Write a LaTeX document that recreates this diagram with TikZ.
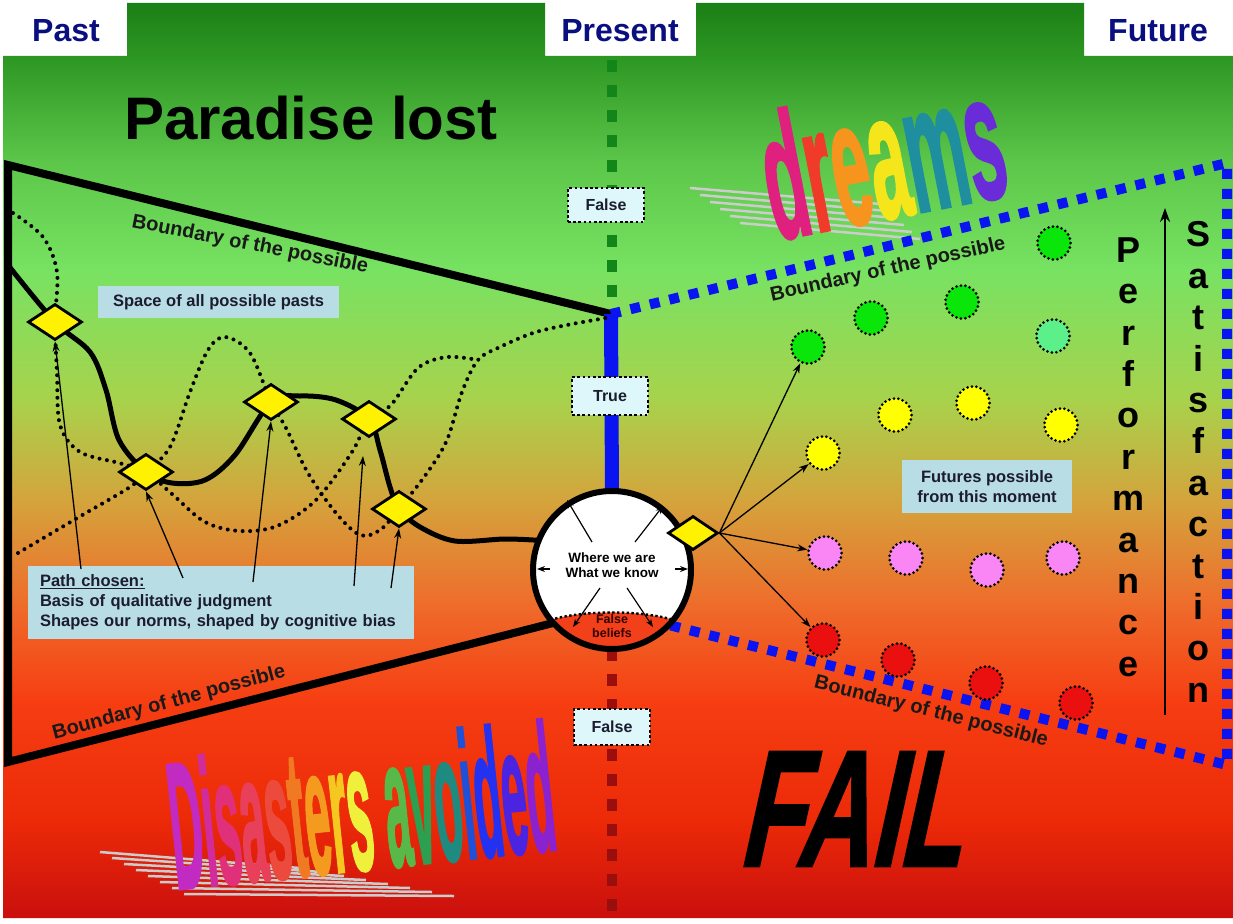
\documentclass[tikz,border=0pt]{standalone}
\usepackage{fontspec}
\setmainfont{Liberation Sans}
\newfontfamily\heavyfont{Liberation Sans}[FakeBold=2]
\usepackage{graphicx}
\usetikzlibrary{shapes.geometric,arrows.meta}
\definecolor{navy}{HTML}{0A0F80}
\definecolor{bgA}{HTML}{1A7E14}
\definecolor{bgB}{HTML}{2E9824}
\definecolor{bgC}{HTML}{5CC64A}
\definecolor{bgD}{HTML}{78E262}
\definecolor{bgE}{HTML}{A8D24C}
\definecolor{bgF}{HTML}{D4A43C}
\definecolor{bgG}{HTML}{EE6E2C}
\definecolor{bgH}{HTML}{F63E12}
\definecolor{bgI}{HTML}{EC2A08}
\definecolor{bgJ}{HTML}{C80E0E}
\definecolor{dgreen}{HTML}{13861A}
\definecolor{dred}{HTML}{9A0E0E}
\definecolor{bblue}{HTML}{0A14F0}
\definecolor{infob}{HTML}{B9DDE5}
\definecolor{tfcyan}{HTML}{DDF7FA}
\definecolor{txtd}{HTML}{1C1C30}
\definecolor{fgreen}{HTML}{0AE60A}
\definecolor{fmint}{HTML}{5CF08A}
\definecolor{fyellow}{HTML}{FFFF00}
\definecolor{fpink}{HTML}{FA86F6}
\definecolor{fred}{HTML}{EA1010}
\definecolor{fbred}{HTML}{F2401A}
\definecolor{waA}{HTML}{E0207F}
\definecolor{waB}{HTML}{F03A2A}
\definecolor{waC}{HTML}{F7941D}
\definecolor{waD}{HTML}{F5E51B}
\definecolor{waE}{HTML}{1F8FA0}
\definecolor{waF}{HTML}{6A2BD8}
\definecolor{dsA}{HTML}{C22BC2}
\definecolor{dsB}{HTML}{D12C9E}
\definecolor{dsC}{HTML}{E0307A}
\definecolor{dsD}{HTML}{E8405A}
\definecolor{dsE}{HTML}{EC4A3C}
\definecolor{dsF}{HTML}{F07A22}
\definecolor{dsG}{HTML}{F49A1E}
\definecolor{dsH}{HTML}{F4C81E}
\definecolor{dsI}{HTML}{EEF03C}
\definecolor{dsJ}{HTML}{58B848}
\definecolor{dsK}{HTML}{2AA050}
\definecolor{dsL}{HTML}{1F8A80}
\definecolor{dsM}{HTML}{1E50D8}
\definecolor{dsN}{HTML}{2232F0}
\definecolor{dsO}{HTML}{4A24E0}
\definecolor{dsP}{HTML}{8A22D0}
\begin{document}
\begin{tikzpicture}[x=1pt,y=-1pt,
  tabtxt/.style={font=\fontsize{32}{32}\selectfont\bfseries, text=navy, inner sep=0pt},
  bndtxt/.style={font=\fontsize{20}{20}\selectfont\bfseries, text=black!90, inner sep=0pt},
  infobox/.style={fill=infob, inner sep=0pt, font=\fontsize{16.5}{20}\selectfont\bfseries, text=txtd},
  tfbox/.style={draw=black, line width=2.6pt, dash pattern=on 2.6pt off 2.6pt, fill=tfcyan, minimum width=76pt, minimum height=34pt, inner sep=0pt, font=\fontsize{16}{16}\selectfont\bfseries, text=txtd},
  pdiam/.style={diamond, draw=black, line width=2.8pt, fill=yellow, minimum width=54pt, minimum height=36pt, inner sep=0pt},
  fut/.style={circle, draw=black, line width=3pt, dash pattern=on 0pt off 4.5pt, line cap=round, minimum size=33pt, inner sep=0pt},
  dotcurve/.style={line width=4pt, dash pattern=on 0pt off 7.5pt, line cap=round},
  thinarr/.style={line width=1.3pt, -{Stealth[length=10pt,width=7pt]}},
  smallarr/.style={line width=1.2pt, -{Stealth[length=8pt,width=6pt]}},
  bluedash/.style={draw=bblue, line width=10pt, dash pattern=on 10pt off 10pt},
  shadowline/.style={draw=gray!40, line width=2.5pt},
  vert/.style={font=\fontsize{36}{41.4}\selectfont\bfseries, align=center, inner sep=0pt},
]
\useasboundingbox (0,0) rectangle (1233,923);
\fill[white] (0,0) rectangle (1233,923);
% background gradient
\begin{scope}
\clip (3,56) -- (127,56) -- (127,3) -- (545,3) -- (545,56) -- (696,56) -- (696,3) -- (1084,3) -- (1084,56) -- (1233,56) -- (1233,918) -- (3,918) -- cycle;
\shade[top color=bgA, bottom color=bgB] (0,0) rectangle (1233,61);
\shade[top color=bgB, bottom color=bgC] (0,60) rectangle (1233,161);
\shade[top color=bgC, bottom color=bgD] (0,160) rectangle (1233,271);
\shade[top color=bgD, bottom color=bgE] (0,270) rectangle (1233,401);
\shade[top color=bgE, bottom color=bgF] (0,400) rectangle (1233,501);
\shade[top color=bgF, bottom color=bgG] (0,500) rectangle (1233,601);
\shade[top color=bgG, bottom color=bgH] (0,600) rectangle (1233,701);
\shade[top color=bgH, bottom color=bgI] (0,700) rectangle (1233,821);
\shade[top color=bgI, bottom color=bgJ] (0,820) rectangle (1233,923);
\end{scope}
% tabs
\node[tabtxt] (past) at (66,31) {Past};
\node[tabtxt] (present) at (620,31) {Present};
\node[tabtxt] (future) at (1158,31) {Future};
% word art shadows
\foreach \i in {0,...,5} \draw[shadowline] (690+10*\i,188+7*\i) -- (880+8*\i,204+7*\i);
\foreach \i in {0,...,7} \draw[shadowline] (100+12*\i,852+6*\i) -- (300+22*\i,868+4*\i);
% word art
\node[rotate=11, inner sep=0pt] (drm) at (882,155) {\scalebox{0.68}[1.77]{\fontsize{100}{100}\selectfont\heavyfont\bfseries\textcolor{waA}{d}\textcolor{waB}{r}\textcolor{waC}{e}\textcolor{waD}{a}\textcolor{waE}{m}\textcolor{waF}{s}}};
\node[rotate=6, inner sep=0pt] (dis) at (361,805) {\scalebox{0.45}[1.8]{\fontsize{100}{100}\selectfont\heavyfont\bfseries\textcolor{dsA}{D}\textcolor{dsB}{i}\textcolor{dsC}{s}\textcolor{dsD}{a}\textcolor{dsE}{s}\textcolor{dsF}{t}\textcolor{dsG}{e}\textcolor{dsH}{r}\textcolor{dsI}{s} \textcolor{dsJ}{a}\textcolor{dsK}{v}\textcolor{dsL}{o}\textcolor{dsM}{i}\textcolor{dsN}{d}\textcolor{dsO}{e}\textcolor{dsP}{d}}};
\node[xslant=0.22, inner sep=0pt] (fail) at (861,809) {\scalebox{0.62}[1]{\fontsize{165}{165}\selectfont\heavyfont\bfseries FAIL}};
\node[inner sep=0pt, font=\fontsize{60}{60}\selectfont\bfseries] (pl) at (311,118) {Paradise lost};
% present line
\coordinate (gtop) at (612,60);
\coordinate (gbot) at (612,306);
\coordinate (apex) at (611,314);
\coordinate (rbot) at (612,918);
\draw[dgreen, line width=10pt, dash pattern=on 12pt off 13pt] (gtop) -- (gbot);
\node[circle, minimum size=158pt, fill=white, inner sep=0pt] (c) at (612,570) {};
\draw[dred, line width=10pt, dash pattern=on 12pt off 13pt] (c.south) -- (rbot);
% past boundaries
\coordinate (tl) at (8,165);
\coordinate (bl) at (8,762);
\draw[line width=8pt, line join=miter] (apex) -- (tl) -- (bl) -- (c.222);
% present / future boundaries
\draw[bblue, line width=14pt] (apex) -- (c.north);
\coordinate (tr) at (1227,163);
\coordinate (br) at (1227,765);
\draw[bluedash] (apex) -- (tr) -- (br) -- (c.-44);
% boundary labels
\node[bndtxt, rotate=-11] (b1) at (250,245) {Boundary of the possible};
\node[bndtxt, rotate=15] (b2) at (169,703) {Boundary of the possible};
\node[bndtxt, rotate=12.5] (b3) at (888,270) {Boundary of the possible};
\node[bndtxt, rotate=-14] (b4) at (931,712) {Boundary of the possible};
% info boxes
\node[infobox, minimum width=241pt, minimum height=32pt] (spc) at (218.5,302) {Space of all possible pasts};
\node[infobox, minimum width=386pt, minimum height=73pt, text width=362pt, align=left] (pc) at (221,602) {\underline{Path chosen:}\\Basis of qualitative judgment\\Shapes our norms, shaped by cognitive bias};
\node[infobox, minimum width=170pt, minimum height=53pt, align=center] (fb) at (987,486.5) {Futures possible\\from this moment};
% path points
\coordinate (D1) at (55,322);
\coordinate (D2) at (146,472);
\coordinate (D3) at (271,402);
\coordinate (D4) at (369,419);
\coordinate (D5) at (399,509);
% dotted alternative pasts
\draw[dotcurve] plot[smooth, tension=0.55] coordinates {(13,213) (43,237) (57,272) (D1) (57,373) (60,425) (80,452) (119,463) (D2) (172,494) (205,522) (240,531) (277,526) (316,500) (352,452) (D4) (391,405) (418,368) (447,357) (478,360)};
\draw[dotcurve] plot[smooth, tension=0.55] coordinates {(18,553) (79,517) (130,487) (D2) (170,447) (190,392) (208,350) (225,337) (250,353) (D3) (286,428) (308,473) (336,513) (360,535) (380,530) (D5) (427,473) (447,440) (462,392) (478,360) (500,347) (533,333) (567,325) (606,318)};
% chosen path
\draw[line width=5pt, line join=round, line cap=round] plot[smooth, tension=0.55] coordinates {(8,265) (D1) (90,352) (106,390) (119,440) (D2) (172,483) (205,480) (235,455) (D3) (300,396) (336,400) (D4) (380,450) (390,487) (D5) (420,527) (455,541) (505,539) (c.158)};
\node[pdiam] (d1) at (D1) {};
\node[pdiam] (d2) at (D2) {};
\node[pdiam] (d3) at (D3) {};
\node[pdiam] (d4) at (D4) {};
\node[pdiam] (d5) at (D5) {};
% arrows from path box
\coordinate (t1) at (81,569);
\coordinate (t2) at (183,578);
\coordinate (t3) at (253,582);
\coordinate (t4) at (354,586);
\coordinate (t5) at (391,588);
\coordinate (h4) at (363,456);
\draw[thinarr] (t1) -- (d1.south);
\draw[thinarr] (t2) -- (d2.south);
\draw[thinarr] (t3) -- (d3.south);
\draw[thinarr] (t4) -- (h4);
\draw[thinarr] (t5) -- (d5.south);
% circle contents
\begin{scope}
\clip (c.center) circle[radius=79];
\fill[fbred] (c.219) .. controls (585,610) and (639,610) .. (c.-39) -- (700,680) -- (520,680) -- cycle;
\end{scope}
\draw[line width=2.4pt, dash pattern=on 2.4pt off 2.4pt] (c.219) .. controls (585,610) and (639,610) .. (c.-39);
\node[inner sep=0pt, align=center, font=\fontsize{13.5}{15}\selectfont\bfseries] (wk) at (612,565) {Where we are\\What we know};
\node[inner sep=0pt, align=center, font=\fontsize{12.5}{14}\selectfont\bfseries, text=black!80!red] (fbl) at (612,626) {False\\beliefs};
\coordinate (a1s) at (592,542); \coordinate (a1e) at (567,500);
\coordinate (a2s) at (635,542); \coordinate (a2e) at (663,506);
\coordinate (a3s) at (550,569); \coordinate (a3e) at (537,569);
\coordinate (a4s) at (675,569); \coordinate (a4e) at (688,569);
\coordinate (a5s) at (600,588); \coordinate (a5e) at (573,627);
\coordinate (a6s) at (627,588); \coordinate (a6e) at (653,627);
\draw[smallarr] (a1s) -- (a1e);
\draw[smallarr] (a2s) -- (a2e);
\draw[smallarr] (a3s) -- (a3e);
\draw[smallarr] (a4s) -- (a4e);
\draw[smallarr] (a5s) -- (a5e);
\draw[smallarr] (a6s) -- (a6e);
\draw[line width=6pt] (c.center) circle[radius=79];
% futures
\node[pdiam, minimum width=50pt, minimum height=34pt] (dR) at (693,533) {};
\node[fut, fill=fgreen] (g1) at (808,347) {};
\node[fut, fill=fgreen] (g2) at (871,318) {};
\node[fut, fill=fgreen] (g3) at (962,302) {};
\node[fut, fill=fgreen] (g4) at (1054,243) {};
\node[fut, fill=fmint] (g5) at (1053,336) {};
\node[fut, fill=fyellow] (y1) at (823,453) {};
\node[fut, fill=fyellow] (y2) at (895,415) {};
\node[fut, fill=fyellow] (y3) at (973,403) {};
\node[fut, fill=fyellow] (y4) at (1061,425) {};
\node[fut, fill=fpink] (p1) at (825,553) {};
\node[fut, fill=fpink] (p2) at (906,558) {};
\node[fut, fill=fpink] (p3) at (987,570) {};
\node[fut, fill=fpink] (p4) at (1063,558) {};
\node[fut, fill=fred] (r1) at (823,640) {};
\node[fut, fill=fred] (r2) at (898,660) {};
\node[fut, fill=fred] (r3) at (986,683) {};
\node[fut, fill=fred] (r4) at (1076,703) {};
\draw[thinarr] (dR.east) -- (g1);
\draw[thinarr] (dR.east) -- (y1);
\draw[thinarr] (dR.east) -- (p1);
\draw[thinarr] (dR.east) -- (r1);
% true / false boxes
\node[tfbox] (f1) at (606,205) {False};
\node[tfbox, minimum height=38pt] (t0) at (610,396) {True};
\node[tfbox, minimum height=36pt] (f2) at (612,727) {False};
% performance / satisfaction
\node[vert] (perf) at (1128,457) {P\\e\\r\\f\\o\\r\\m\\a\\n\\c\\e};
\node[vert] (sat) at (1198,462) {S\\a\\t\\i\\s\\f\\a\\c\\t\\i\\o\\n};
\coordinate (arrb) at (1165,715);
\coordinate (arrt) at (1165,208);
\draw[line width=2pt, -{Stealth[length=14pt,width=10pt]}] (arrb) -- (arrt);
\end{tikzpicture}
\end{document}
